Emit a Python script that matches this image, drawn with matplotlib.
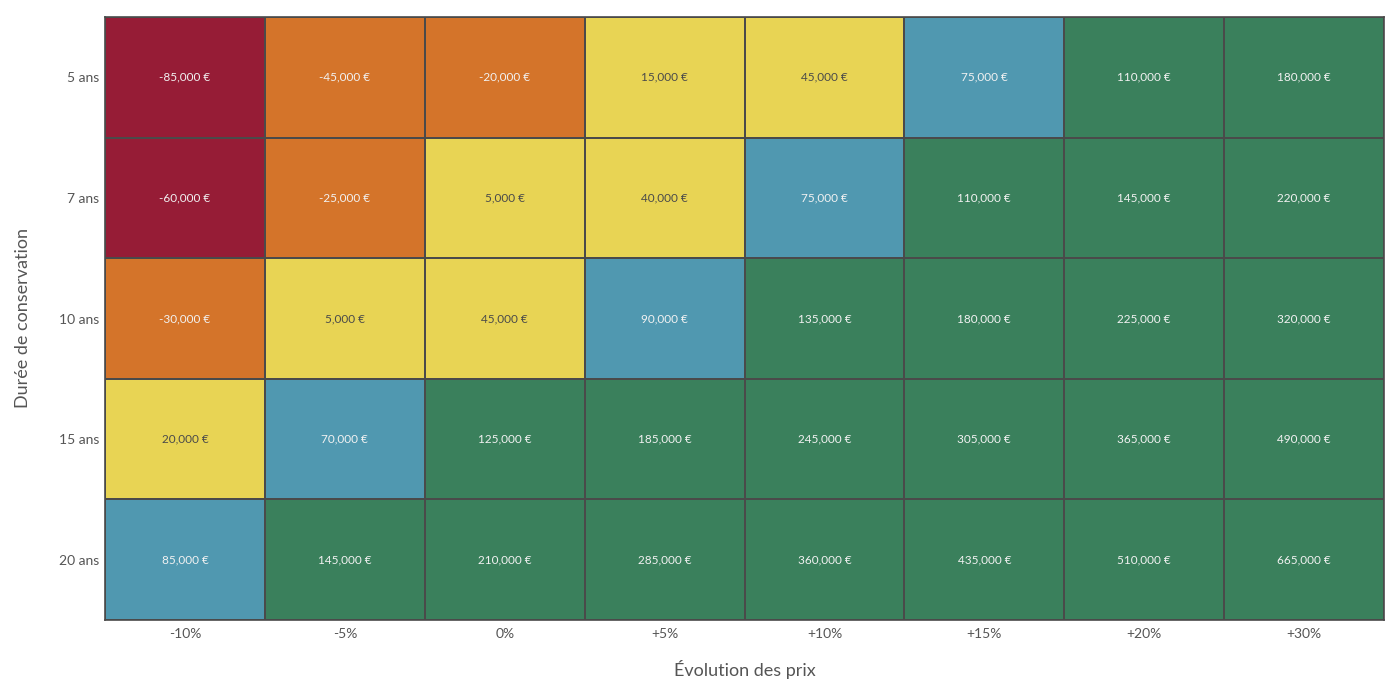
import numpy as np
import matplotlib.pyplot as plt
from matplotlib.colors import ListedColormap, BoundaryNorm

plt.rcParams['font.family'] = ['Lato', 'DejaVu Sans']

# Data
price_changes = ["-10%", "-5%", "0%", "+5%", "+10%", "+15%", "+20%", "+30%"]
durations = ["5 ans", "7 ans", "10 ans", "15 ans", "20 ans"]
gains = np.array([
    [-85000, -45000, -20000, 15000, 45000, 75000, 110000, 180000],
    [-60000, -25000, 5000, 40000, 75000, 110000, 145000, 220000],
    [-30000, 5000, 45000, 90000, 135000, 180000, 225000, 320000],
    [20000, 70000, 125000, 185000, 245000, 305000, 365000, 490000],
    [85000, 145000, 210000, 285000, 360000, 435000, 510000, 665000],
])

bounds = [-1e9, -50000, 0, 50000, 100000, 1e9]
colors = ["#961c36", "#d4742a", "#e8d454", "#5098b0", "#3a805c"]
cmap = ListedColormap(colors)
norm = BoundaryNorm(bounds, cmap.N)

fig = plt.figure(figsize=(14, 7), dpi=100)
ax = fig.add_axes([0.075, 0.1143, 0.9136, 0.8614])

ax.pcolormesh(gains, cmap=cmap, norm=norm, edgecolors="#4a4a4a", linewidth=1.4)
ax.set_xlim(0, len(price_changes))
ax.set_ylim(len(durations), 0)

for i in range(len(durations)):
    for j in range(len(price_changes)):
        v = gains[i, j]
        tc = "#4a4a4a" if 0 <= v < 50000 else "#f2f2f2"
        ax.text(j + 0.5, i + 0.5, f"{v:,} €", ha="center", va="center",
                fontsize=8.5, color=tc)

ax.set_xticks(np.arange(len(price_changes)) + 0.5)
ax.set_xticklabels(price_changes)
ax.set_yticks(np.arange(len(durations)) + 0.5)
ax.set_yticklabels(durations)
ax.tick_params(length=0, labelsize=10, colors="#555555")
ax.tick_params(axis="x", pad=6)
ax.tick_params(axis="y", pad=4)

ax.set_xlabel("Évolution des prix", fontsize=13, color="#555555", labelpad=14)
ax.set_ylabel("Durée de conservation", fontsize=13, color="#555555", labelpad=20)

for s in ax.spines.values():
    s.set_color("#4a4a4a")
    s.set_linewidth(1.2)

fig.savefig("out.png", dpi=100)
